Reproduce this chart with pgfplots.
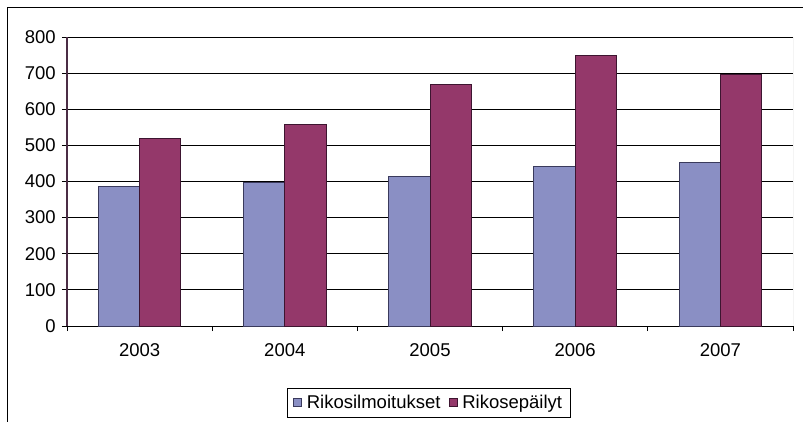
\documentclass[border=0pt]{standalone}
\usepackage{pgfplots}
\pgfplotsset{compat=1.18}
\usepackage{fontspec}
\setmainfont{Liberation Sans}
\definecolor{barblue}{HTML}{8A8FC4}
\definecolor{barred}{HTML}{94386A}
\definecolor{blueedge}{HTML}{3A3A5C}
\definecolor{rededge}{HTML}{3D1530}
\definecolor{yline}{HTML}{4B2D45}
\begin{document}
\fontsize{18.5}{22}\selectfont
\begin{tikzpicture}
\useasboundingbox (0pt,0pt) rectangle (803pt,421pt);
% chart area frame (cut off at right and bottom)
\draw[line width=1.5pt] (7.5pt,-10pt) -- (7.5pt,413.5pt) -- (820pt,413.5pt);
\begin{axis}[
  at={(67pt,95pt)}, anchor=south west,
  scale only axis, width=726pt, height=289pt,
  ybar=0pt, bar width=41.3pt,
  xmin=-0.5, xmax=4.5, ymin=0, ymax=800,
  ytick={0,100,...,800},
  xtick={-0.5,0.5,...,4.5}, xticklabels={},
  extra x ticks={0,1,2,3,4},
  extra x tick labels={2003,2004,2005,2006,2007},
  extra x tick style={major tick length=0pt},
  tick align=outside, major tick length=5pt,
  tick style={black, line width=1pt},
  ymajorgrids, grid style={black, line width=1pt},
  axis x line*=bottom, axis y line*=left,
  x axis line style={black, line width=1pt},
  y axis line style={yline, line width=1.2pt},
  /pgf/number format/assume math mode=true,
  ticklabel style={font=\fontsize{18.5}{22}\selectfont},
  yticklabel style={anchor=east},
  xticklabel style={yshift=-11pt},
  legend style={at={(0.498,-0.266)}, anchor=center, legend columns=2,
    draw=black, line width=1pt, font=\fontsize{18.5}{22}\selectfont,
    inner xsep=6pt, inner ysep=4.5pt,
    /tikz/every odd column/.append style={column sep=3pt},
    /tikz/every even column/.append style={column sep=6pt}},
  legend image code/.code={\draw[#1, line width=0.8pt] (0pt,-4pt) rectangle (8pt,4pt);},
]
\addplot[fill=barblue, draw=blueedge, line width=1pt] coordinates {
  (0,385) (1,398) (2,413) (3,442) (4,453)};
\addlegendentry{Rikosilmoitukset}
\addplot[fill=barred, draw=rededge, line width=1pt] coordinates {
  (0,520) (1,557) (2,669) (3,748) (4,697)};
\addlegendentry{Rikosepäilyt}
\draw[gray!70, line width=1pt] (rel axis cs:1,0) -- (rel axis cs:1,1);
\end{axis}
\end{tikzpicture}
\end{document}
